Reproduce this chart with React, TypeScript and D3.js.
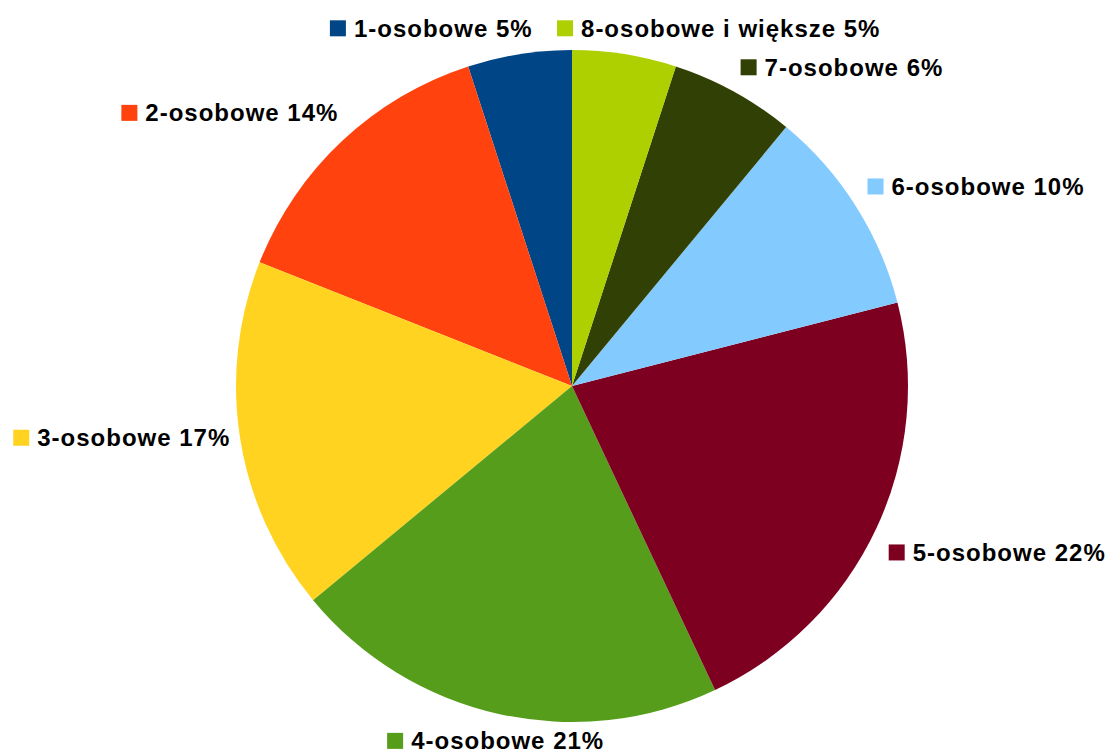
import React, { useEffect, useRef } from 'react';
import * as d3 from 'd3';

// household size categories, drawn counter-clockwise from 12 o'clock
const categories = [
    '1-osobowe',
    '2-osobowe',
    '3-osobowe',
    '4-osobowe',
    '5-osobowe',
    '6-osobowe',
    '7-osobowe',
    '8-osobowe i większe',
];
const shares = [5, 14, 17, 21, 22, 10, 6, 5];
const colors = ['#004586', '#ff420e', '#ffd320', '#579d1c', '#7e0021', '#83caff', '#314004', '#aecf00'];

const WIDTH = 1109;
const HEIGHT = 754;

// some labels were pushed around by the original layout to avoid overlaps
const labelNudge: Record<string, [number, number]> = {
    '1-osobowe': [-86, 0],
    '8-osobowe i większe': [92, 0],
    '2-osobowe': [6, -6],
    '3-osobowe': [4, 0],
};

type Slice = { category: string; share: number; color: string };

const App: React.FC = () => {
    const svgRef = useRef<SVGSVGElement>(null);

    useEffect(() => {
        if (!svgRef.current) return;
        const svg = d3.select(svgRef.current);
        svg.selectAll('*').remove();

        const cx = 572;
        const cy = 386;
        const radius = 336;
        const labelRadius = 350;
        const swatch = 16;
        const gap = 8;

        const data: Slice[] = categories.map((c, i) => ({ category: c, share: shares[i], color: colors[i] }));

        const pie = d3.pie<Slice>()
            .sort(null)
            .value(d => d.share)
            .startAngle(0)
            .endAngle(-2 * Math.PI);

        const arc = d3.arc<d3.PieArcDatum<Slice>>()
            .innerRadius(0)
            .outerRadius(radius);

        const arcs = pie(data);

        const g = svg.append('g').attr('transform', `translate(${cx},${cy})`);

        g.selectAll('path')
            .data(arcs)
            .join('path')
            .attr('d', arc)
            .attr('fill', d => d.data.color);

        // Labels: swatch + bold text, placed outside the pie along the mid angle
        const labels = g.append('g')
            .attr('font-family', '"Liberation Sans", Arial, sans-serif')
            .attr('font-weight', 'bold')
            .attr('font-size', 24)
            .attr('letter-spacing', 1)
            .selectAll('g')
            .data(arcs)
            .join('g');

        labels.append('rect')
            .attr('width', swatch)
            .attr('height', swatch)
            .attr('y', -swatch / 2)
            .attr('fill', d => d.data.color);

        labels.append('text')
            .attr('x', swatch + gap)
            .attr('y', 8.5)
            .attr('fill', '#000')
            .text(d => `${d.data.category} ${d.data.share}%`);

        labels.each(function (d) {
            const node = d3.select(this);
            const textNode = node.select<SVGTextElement>('text').node();
            const tw = textNode ? textNode.getComputedTextLength() : 0;
            const w = swatch + gap + tw;
            const h = 24;
            const mid = (d.startAngle + d.endAngle) / 2;
            const ux = Math.sin(mid);
            const uy = -Math.cos(mid);
            const px = ux * labelRadius;
            const py = uy * labelRadius;

            let left: number;
            if (ux > 0.3) left = px;
            else if (ux < -0.3) left = px - w;
            else left = px - w / 2;

            let centerY: number;
            if (uy < -0.3) centerY = py - h / 2;
            else if (uy > 0.3) centerY = py + h / 2 + 6 * Math.abs(ux);
            else centerY = py - 3;

            const [dx, dy] = labelNudge[d.data.category] ?? [0, 0];
            node.attr('transform', `translate(${left + dx},${centerY + dy})`);
        });
    }, []);

    return (
        <svg
            ref={svgRef}
            width={WIDTH}
            height={HEIGHT}
            viewBox={`0 0 ${WIDTH} ${HEIGHT}`}
            style={{ position: 'absolute', left: 0, top: 0, background: '#fff' }}
        />
    );
};

export default App;
